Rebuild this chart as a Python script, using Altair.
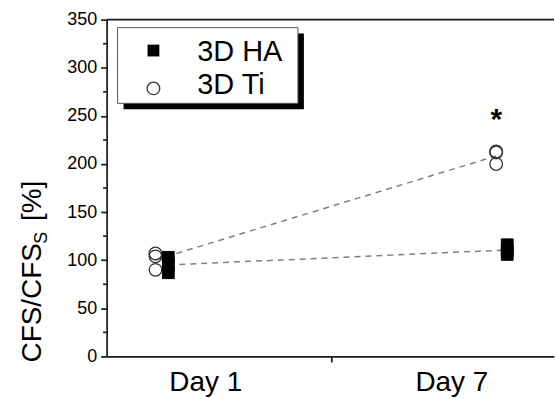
import altair as alt
import pandas as pd

# ---------------- data ----------------
days = ["Day 1", "Day 7"]
series = ["3D HA", "3D Ti"]
ha_day1 = [103, 95, 87]
ha_day7 = [116, 110, 106]
ti_day1 = [107, 104, 90]
ti_day7 = [213, 212, 200]
y_major_ticks = list(range(0, 351, 50))
y_minor_ticks = list(range(25, 350, 50))
significance_mark = "*"

# ---------------- layout (not data) ----------------
X_POS = {("3D Ti", "Day 1"): 0.717, ("3D HA", "Day 1"): 0.774,
         ("3D Ti", "Day 7"): 2.230, ("3D HA", "Day 7"): 2.279}
LABEL_POS = {"Day 1": 0.938, "Day 7": 2.031}
MID_TICK = 1.5
W, H = 449, 338
FONT = "Liberation Sans"
AX = "#1a1a1a"
TXT = "#000000"
LW = 1.7

rows = []
for s, vals_by_day in zip(series, [(ha_day1, ha_day7), (ti_day1, ti_day7)]):
    for d, vals in zip(days, vals_by_day):
        for v in vals:
            rows.append({"series": s, "day": d, "value": v, "x": X_POS[(s, d)]})
df = pd.DataFrame(rows)
means = df.groupby(["series", "day"], as_index=False).agg(value=("value", "mean"), x=("x", "first"))

xscale = alt.Scale(domain=[0.5, 0.5 + W / 226.0], nice=False, zero=False)
yscale = alt.Scale(domain=[0, 350], nice=False, zero=True)

x_axis = alt.Axis(
    values=[LABEL_POS["Day 1"], LABEL_POS["Day 7"]],
    labelExpr=f"datum.value < 1.5 ? '{days[0]}' : '{days[1]}'",
    ticks=False, title=None, grid=False, domainColor=AX, domainWidth=LW,
    labelFontSize=28, labelFont=FONT, labelColor=TXT, labelPadding=12,
    labelFlush=False, labelOverlap=False,
)
y_axis = alt.Axis(
    values=y_major_ticks,
    tickSize=6, title=None, grid=False, domainColor=AX, domainWidth=LW, tickColor=AX, tickWidth=LW,
    labelFontSize=18, labelFont=FONT, labelColor=TXT, labelPadding=4,
    labelOverlap=False,
)

X = alt.X("x:Q", scale=xscale, axis=x_axis)
Y = alt.Y("value:Q", scale=yscale, axis=y_axis)

base = alt.Chart(df)

lines = alt.Chart(means).mark_line(strokeDash=[6, 5], color="#808080", strokeWidth=1.5).encode(
    x=X, y=Y, detail="series:N", order="x:Q")

circles = base.transform_filter(alt.datum.series == series[1]).mark_point(
    shape="circle", filled=False, size=160, stroke="#333333", strokeWidth=1.3, opacity=1
).encode(x=X, y=Y)

squares = base.transform_filter(alt.datum.series == series[0]).mark_point(
    shape="square", filled=True, size=140, color="black", stroke="black", strokeWidth=1, opacity=1
).encode(x=X, y=Y)

ann = pd.DataFrame({"x": [X_POS[(series[1], days[1])]], "value": [max(ti_day7)], "t": [significance_mark]})
star = alt.Chart(ann).mark_text(fontSize=30, font=FONT, fontWeight="bold", dy=-23,
                                baseline="alphabetic", align="center", color="black").encode(
    x=X, y=Y, text="t:N")

top = alt.Chart(pd.DataFrame({"value": [350]})).mark_rule(color=AX, strokeWidth=LW).encode(
    y=Y, x=alt.value(0), x2=alt.value(W))

minor = alt.Chart(pd.DataFrame({"value": y_minor_ticks})).mark_rule(color=AX, strokeWidth=LW).encode(
    y=Y, x=alt.value(-3.5), x2=alt.value(0))

mid = alt.Chart(pd.DataFrame({"x": [MID_TICK]})).mark_rule(color=AX, strokeWidth=LW).encode(
    x=X, y=alt.value(H), y2=alt.value(H + 6))

one = pd.DataFrame({"a": [0]})
shadow = alt.Chart(one).mark_rect(color="black").encode(
    x=alt.value(17), x2=alt.value(198), y=alt.value(14), y2=alt.value(90))
box = alt.Chart(one).mark_rect(fill="white", stroke="#555555", strokeWidth=1).encode(
    x=alt.value(11), x2=alt.value(192), y=alt.value(8), y2=alt.value(84))
leg_sq = alt.Chart(one).mark_point(shape="square", filled=True, size=140, color="black", opacity=1).encode(
    x=alt.value(47), y=alt.value(31))
leg_ci = alt.Chart(one).mark_point(shape="circle", filled=False, size=160, stroke="#333333",
                                   strokeWidth=1.3, opacity=1).encode(x=alt.value(47), y=alt.value(69))
leg_t1 = alt.Chart(one).mark_text(fontSize=29, font=FONT, align="left", baseline="alphabetic",
                                  color=TXT).encode(x=alt.value(91), y=alt.value(42), text=alt.value(series[0]))
leg_t2 = alt.Chart(one).mark_text(fontSize=29, font=FONT, align="left", baseline="alphabetic",
                                  color=TXT).encode(x=alt.value(91), y=alt.value(75), text=alt.value(series[1]))

# y-axis title with subscript, drawn as text
t_main = alt.Chart(one).mark_text(fontSize=28, font=FONT, align="left", baseline="alphabetic", angle=270,
                                  color=TXT).encode(x=alt.value(-66), y=alt.value(344), text=alt.value("CFS/CFS"))
t_sub = alt.Chart(one).mark_text(fontSize=18, font=FONT, align="left", baseline="alphabetic", angle=270,
                                 color=TXT).encode(x=alt.value(-60), y=alt.value(225), text=alt.value("S"))
t_pct = alt.Chart(one).mark_text(fontSize=28, font=FONT, align="left", baseline="alphabetic", angle=270,
                                 color=TXT).encode(x=alt.value(-66), y=alt.value(202), text=alt.value("[%]"))

chart = alt.layer(
    lines, circles, squares, star, top, minor, mid, shadow, box, leg_sq, leg_ci, leg_t1, leg_t2,
    t_main, t_sub, t_pct
).properties(
    width=W, height=H,
    padding={"left": 19, "top": 10, "right": 0, "bottom": 0},
    background="white",
).configure_view(stroke=None, fill=None)

chart.save("out.html", embed_options={"renderer": "svg", "actions": False})
